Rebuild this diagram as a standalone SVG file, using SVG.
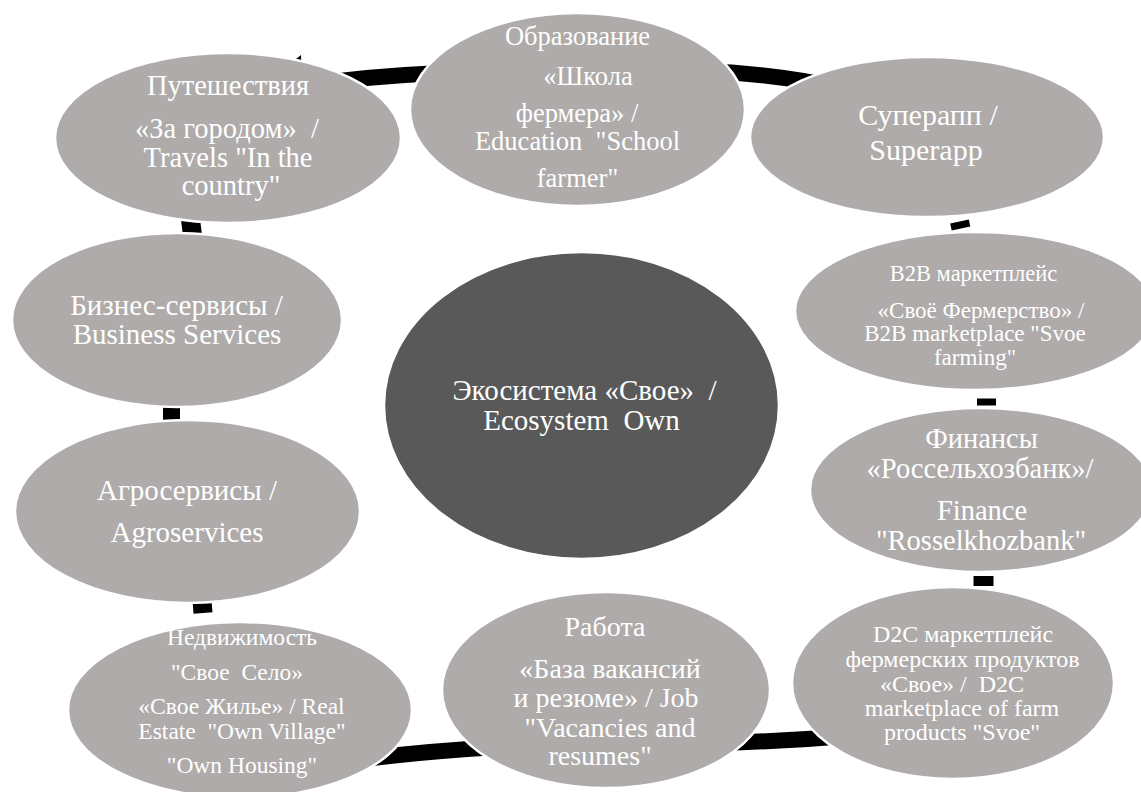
<svg xmlns="http://www.w3.org/2000/svg" width="1141" height="792" viewBox="0 0 1141 792">
  <style>
    .node { fill: #aeabaa; stroke: #ffffff; stroke-width: 2.5; }
    .hub { fill: #595959; stroke: #ffffff; stroke-width: 2.5; }
    .link { fill: none; stroke: #000000; stroke-linecap: butt; }
    .lbl { font-family: "Liberation Serif", "Times New Roman", serif; fill: #ffffff; text-anchor: middle; }
  </style>
  <rect width="1141" height="792" fill="#ffffff"/>

  <!-- cycle connectors between neighbouring services -->
  <g id="connectors">
    <path class="link" stroke-width="16" d="M 300 86 Q 370 76 440 73"/>
    <polygon points="301,55 303,112 258,90" fill="#000000"/>
    <path class="link" stroke-width="16" d="M 700 71 Q 770 73 840 88"/>
    <path class="link" stroke-width="19" d="M 959.5 221.5 L 961 228.5"/>
    <path class="link" stroke-width="19" d="M 986.5 398.5 L 986.5 405.5"/>
    <path class="link" stroke-width="20" d="M 983.5 576 L 983.5 586"/>
    <path class="link" stroke-width="16" d="M 860 735 Q 790 741 720 743"/>
    <path class="link" stroke-width="16" d="M 500 747 Q 430 751 372 758"/>
    <path class="link" stroke-width="19" d="M 202 600 L 203 613"/>
    <path class="link" stroke-width="17" d="M 171.5 405 L 171.5 422"/>
    <path class="link" stroke-width="19" d="M 190 215 L 193 240"/>
  </g>

  <g id="node-travel">
    <ellipse class="node" cx="228" cy="138" rx="173" ry="85"/>
    <text class="lbl" font-size="28.5" x="228" y="95">Путешествия</text>
    <text class="lbl" font-size="28.5" x="227" y="138">«За городом»&#160; /</text>
    <text class="lbl" font-size="28.5" x="228" y="167">Travels "In the</text>
    <text class="lbl" font-size="28.5" x="231" y="195">country"</text>
  </g>

  <g id="node-education">
    <ellipse class="node" cx="577.5" cy="109.5" rx="167.5" ry="96.5"/>
    <text class="lbl" font-size="26.5" x="577.5" y="45">Образование</text>
    <text class="lbl" font-size="26.5" x="588" y="85">«Школа</text>
    <text class="lbl" font-size="26.5" x="577" y="122">фермера» /</text>
    <text class="lbl" font-size="26.5" x="577.5" y="150">Education&#160; "School</text>
    <text class="lbl" font-size="26.5" x="577.5" y="187">farmer"</text>
  </g>

  <g id="node-superapp">
    <ellipse class="node" cx="927" cy="137" rx="177" ry="80"/>
    <text class="lbl" font-size="30" x="928" y="125">Суперапп /</text>
    <text class="lbl" font-size="30" x="926" y="160">Superapp</text>
  </g>

  <g id="node-b2b">
    <ellipse class="node" cx="975" cy="311" rx="180" ry="79"/>
    <text class="lbl" font-size="22.5" x="973.5" y="281">B2B маркетплейс</text>
    <text class="lbl" font-size="23" x="981" y="318">«Своё Фермерство» /</text>
    <text class="lbl" font-size="23" x="975" y="341">B2B marketplace "Svoe</text>
    <text class="lbl" font-size="23" x="975" y="365">farming"</text>
  </g>

  <g id="node-finance">
    <ellipse class="node" cx="981" cy="490" rx="171" ry="82"/>
    <text class="lbl" font-size="28.5" x="981.5" y="448">Финансы</text>
    <text class="lbl" font-size="28.5" x="980" y="478">«Россельхозбанк»/</text>
    <text class="lbl" font-size="28.5" x="982" y="520">Finance</text>
    <text class="lbl" font-size="28.5" x="981" y="550">"Rosselkhozbank"</text>
  </g>

  <g id="node-d2c">
    <ellipse class="node" cx="953" cy="683" rx="161" ry="96"/>
    <text class="lbl" font-size="24" x="963" y="642">D2C маркетплейс</text>
    <text class="lbl" font-size="24" x="962.5" y="667">фермерских продуктов</text>
    <text class="lbl" font-size="24" x="952" y="692">«Свое» /&#160; D2C</text>
    <text class="lbl" font-size="24" x="962" y="716">marketplace of farm</text>
    <text class="lbl" font-size="24" x="962" y="740">products "Svoe"</text>
  </g>

  <g id="node-job">
    <ellipse class="node" cx="606" cy="690" rx="164" ry="98"/>
    <text class="lbl" font-size="28" x="605" y="636">Работа</text>
    <text class="lbl" font-size="28" x="610" y="678">«База вакансий</text>
    <text class="lbl" font-size="28" x="606" y="707">и резюме» / Job</text>
    <text class="lbl" font-size="28" x="610" y="737">"Vacancies and</text>
    <text class="lbl" font-size="28" x="600" y="765">resumes"</text>
  </g>

  <g id="node-realty">
    <ellipse class="node" cx="240" cy="710" rx="172" ry="88"/>
    <text class="lbl" font-size="23.5" x="242" y="645">Недвижимость</text>
    <text class="lbl" font-size="23.5" x="237" y="680">"Свое&#160; Село»</text>
    <text class="lbl" font-size="23.5" x="241.5" y="714">«Свое Жилье» / Real</text>
    <text class="lbl" font-size="23.5" x="242" y="739">Estate&#160; "Own Village"</text>
    <text class="lbl" font-size="23.5" x="242" y="773">"Own Housing"</text>
  </g>

  <g id="node-agro">
    <ellipse class="node" cx="187.5" cy="511.5" rx="172.5" ry="91.5"/>
    <text class="lbl" font-size="29" x="187" y="500">Агросервисы /</text>
    <text class="lbl" font-size="29" x="187" y="542">Agroservices</text>
  </g>

  <g id="node-business">
    <ellipse class="node" cx="177" cy="320" rx="165" ry="87"/>
    <text class="lbl" font-size="29" x="176.5" y="315">Бизнес-сервисы /</text>
    <text class="lbl" font-size="29" x="177" y="344">Business Services</text>
  </g>

  <g id="node-ecosystem">
    <ellipse class="hub" cx="581.5" cy="405.5" rx="197.5" ry="153.5"/>
    <text class="lbl" font-size="29" x="584.5" y="400">Экосистема «Свое»&#160; /</text>
    <text class="lbl" font-size="29" x="581.5" y="430">Ecosystem&#160; Own</text>
  </g>
</svg>
